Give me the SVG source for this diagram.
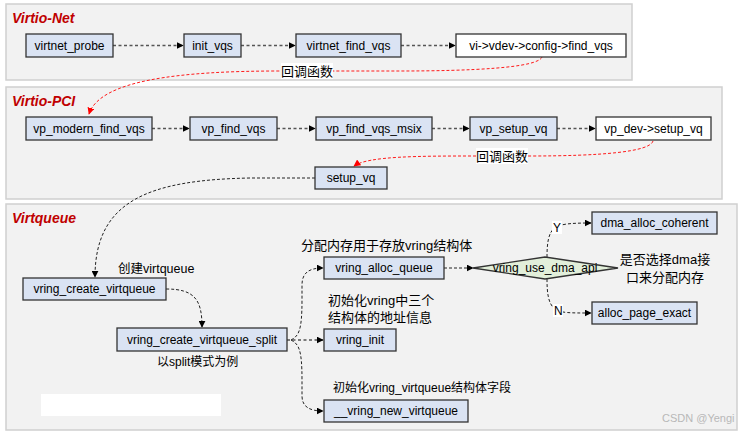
<svg xmlns="http://www.w3.org/2000/svg" width="742" height="434" viewBox="0 0 742 434">
<defs>
<marker id="ab" viewBox="0 0 10 10" refX="9" refY="5" markerWidth="7" markerHeight="7" orient="auto" markerUnits="userSpaceOnUse"><path d="M0,0 L10,5 L0,10 Z" fill="#000"/></marker>
<marker id="ar" viewBox="0 0 10 10" refX="9" refY="5" markerWidth="7" markerHeight="7" orient="auto" markerUnits="userSpaceOnUse"><path d="M0,0 L10,5 L0,10 Z" fill="#ff0000"/></marker>
</defs>
<style>
.panel{fill:#f2f2f2;stroke:#cfcfcf;stroke-width:1.5}
.title{font-family:"Liberation Sans",Arial,sans-serif;font-size:14px;font-weight:bold;font-style:italic;fill:#c00000}
.node rect{fill:#dae3f3;stroke:#333;stroke-width:1.3}
.node.w rect{fill:#fff}
.node text,.lbl{font-family:"Liberation Sans","Noto Sans CJK SC",Arial,sans-serif;font-size:12px;fill:#000}
.node text{text-anchor:middle}
.lbl.b{font-size:13px}
.g{fill:none;stroke:#555;stroke-width:1.6;stroke-dasharray:3,2.5}
.k{fill:none;stroke:#222;stroke-width:1;stroke-dasharray:3,2}
.r{fill:none;stroke:#ff1a1a;stroke-width:1;stroke-dasharray:3,2}
</style>
<rect width="742" height="434" fill="#fff"/>
<rect class="panel" x="6" y="4" width="626" height="76"/>
<rect class="panel" x="6" y="87" width="716" height="112"/>
<rect class="panel" x="6" y="204" width="731" height="226"/>
<text class="title" x="12" y="23">Virtio-Net</text>
<text class="title" x="12" y="106">Virtio-PCI</text>
<text class="title" x="12" y="223">Virtqueue</text>
<rect x="41" y="394" width="180" height="22" fill="#fff"/>

<g id="connectors">
<path class="g" d="M113,45.5 L183,45.5" marker-end="url(#ab)"/>
<path class="g" d="M241,45.5 L295,45.5" marker-end="url(#ab)"/>
<path class="g" d="M401,45.5 L455,45.5" marker-end="url(#ab)"/>
<path class="r" d="M542,57 C538,68 470,71 400,71 L280,71 C180,71 100,80 89,114" marker-end="url(#ar)"/>
<path class="g" d="M152,128.5 L189,128.5" marker-end="url(#ab)"/>
<path class="g" d="M277,128.5 L315,128.5" marker-end="url(#ab)"/>
<path class="g" d="M432,128.5 L469,128.5" marker-end="url(#ab)"/>
<path class="g" d="M557,128.5 L595,128.5" marker-end="url(#ab)"/>
<path class="r" d="M653,141 C650,152 600,156 530,156 L476,156 C420,156 368,156 354,166" marker-end="url(#ar)"/>
<path class="k" d="M315,178 L250,178 C150,180 95,200 95,277" marker-end="url(#ab)"/>
<path class="k" d="M166,289 C195,289 202,300 202,327" marker-end="url(#ab)"/>
<path class="g" d="M287,340 L323,340" marker-end="url(#ab)"/>
<path class="k" d="M291,340 C299,336 302,330 302,300 L302,285 C302,272 310,268 323,268" marker-end="url(#ab)"/>
<path class="k" d="M291,340 C299,344 302,350 302,380 L302,396 C302,407 310,411 323,411" marker-end="url(#ab)"/>
<path class="k" d="M444,268 L473,268" marker-end="url(#ab)"/>
<path class="k" d="M547,257 C547,245 548,232 555,228 C560,224 570,223 591,223" marker-end="url(#ab)"/>
<path class="k" d="M547,279 C547,292 548,304 555,309 C560,313 570,313 591,313" marker-end="url(#ab)"/>
</g>

<g id="virtnet_probe" class="node"><rect x="26" y="34" width="87" height="23"/><text x="69.5" y="50">virtnet_probe</text></g>
<g id="init_vqs" class="node"><rect x="184" y="34" width="57" height="23"/><text x="212.5" y="50">init_vqs</text></g>
<g id="virtnet_find_vqs" class="node"><rect x="296" y="34" width="105" height="23"/><text x="348.5" y="50">virtnet_find_vqs</text></g>
<g id="config_find_vqs" class="node w"><rect x="456" y="34" width="170" height="23"/><text x="541" y="50">vi-&gt;vdev-&gt;config-&gt;find_vqs</text></g>

<g id="vp_modern_find_vqs" class="node"><rect x="26" y="117" width="126" height="23"/><text x="89" y="133">vp_modern_find_vqs</text></g>
<g id="vp_find_vqs" class="node"><rect x="190" y="117" width="87" height="23"/><text x="233.5" y="133">vp_find_vqs</text></g>
<g id="vp_find_vqs_msix" class="node"><rect x="316" y="117" width="116" height="23"/><text x="374" y="133">vp_find_vqs_msix</text></g>
<g id="vp_setup_vq" class="node"><rect x="470" y="117" width="87" height="23"/><text x="513.5" y="133">vp_setup_vq</text></g>
<g id="vp_dev_setup_vq" class="node w"><rect x="596" y="117" width="115" height="23"/><text x="653.5" y="133">vp_dev-&gt;setup_vq</text></g>
<g id="setup_vq" class="node"><rect x="315" y="167" width="72" height="22"/><text x="351" y="182">setup_vq</text></g>

<g id="vring_create_virtqueue" class="node"><rect x="23" y="278" width="143" height="22"/><text x="94.5" y="293">vring_create_virtqueue</text></g>
<g id="vring_create_virtqueue_split" class="node"><rect x="117" y="328" width="170" height="23"/><text x="202" y="344">vring_create_virtqueue_split</text></g>
<g id="vring_alloc_queue" class="node"><rect x="324" y="257" width="120" height="22"/><text x="384" y="272">vring_alloc_queue</text></g>
<g id="vring_init" class="node"><rect x="324" y="329" width="72" height="22"/><text x="360" y="344">vring_init</text></g>
<g id="vring_new_virtqueue" class="node"><rect x="324" y="400" width="144" height="22"/><text x="396" y="415">__vring_new_virtqueue</text></g>
<g id="vring_use_dma_api" class="node"><polygon points="473,268 545,257 618,268 545,279" fill="#e2efda" stroke="#333" stroke-width="1.3"/><text x="545" y="272">vring_use_dma_api</text></g>
<g id="dma_alloc_coherent" class="node"><rect x="592" y="212" width="125" height="22"/><text x="654.5" y="227">dma_alloc_coherent</text></g>
<g id="alloc_page_exact" class="node"><rect x="592" y="302" width="105" height="22"/><text x="644.5" y="317">alloc_page_exact</text></g>

<g id="labels">
<rect x="281" y="63" width="52" height="16" fill="#fff"/>
<text class="lbl b" x="281" y="76">回调函数</text>
<rect x="476" y="148" width="52" height="16" fill="#fff"/>
<text class="lbl b" x="476" y="161">回调函数</text>
<text class="lbl" x="118" y="273" style="font-size:12.5px">创建virtqueue</text>
<text class="lbl b" x="301" y="250">分配内存用于存放vring结构体</text>
<text class="lbl b" x="328" y="305">初始化vring中三个</text>
<text class="lbl b" x="328" y="322">结构体的地址信息</text>
<text class="lbl" x="157" y="366">以split模式为例</text>
<text class="lbl" x="333" y="392">初始化vring_virtqueue结构体字段</text>
<text class="lbl b" x="665" y="264" text-anchor="middle">是否选择dma接</text>
<text class="lbl b" x="665" y="282" text-anchor="middle">口来分配内存</text>
<rect x="552" y="221" width="10" height="13" fill="#fff"/>
<text class="lbl" x="553" y="232">Y</text>
<rect x="553" y="304" width="10" height="13" fill="#fff"/>
<text class="lbl" x="554" y="315">N</text>
<text x="662" y="422" style="font-family:'Liberation Sans',Arial,sans-serif;font-size:11px;fill:#b8b8b8">CSDN @Yengi</text>
</g>
</svg>
